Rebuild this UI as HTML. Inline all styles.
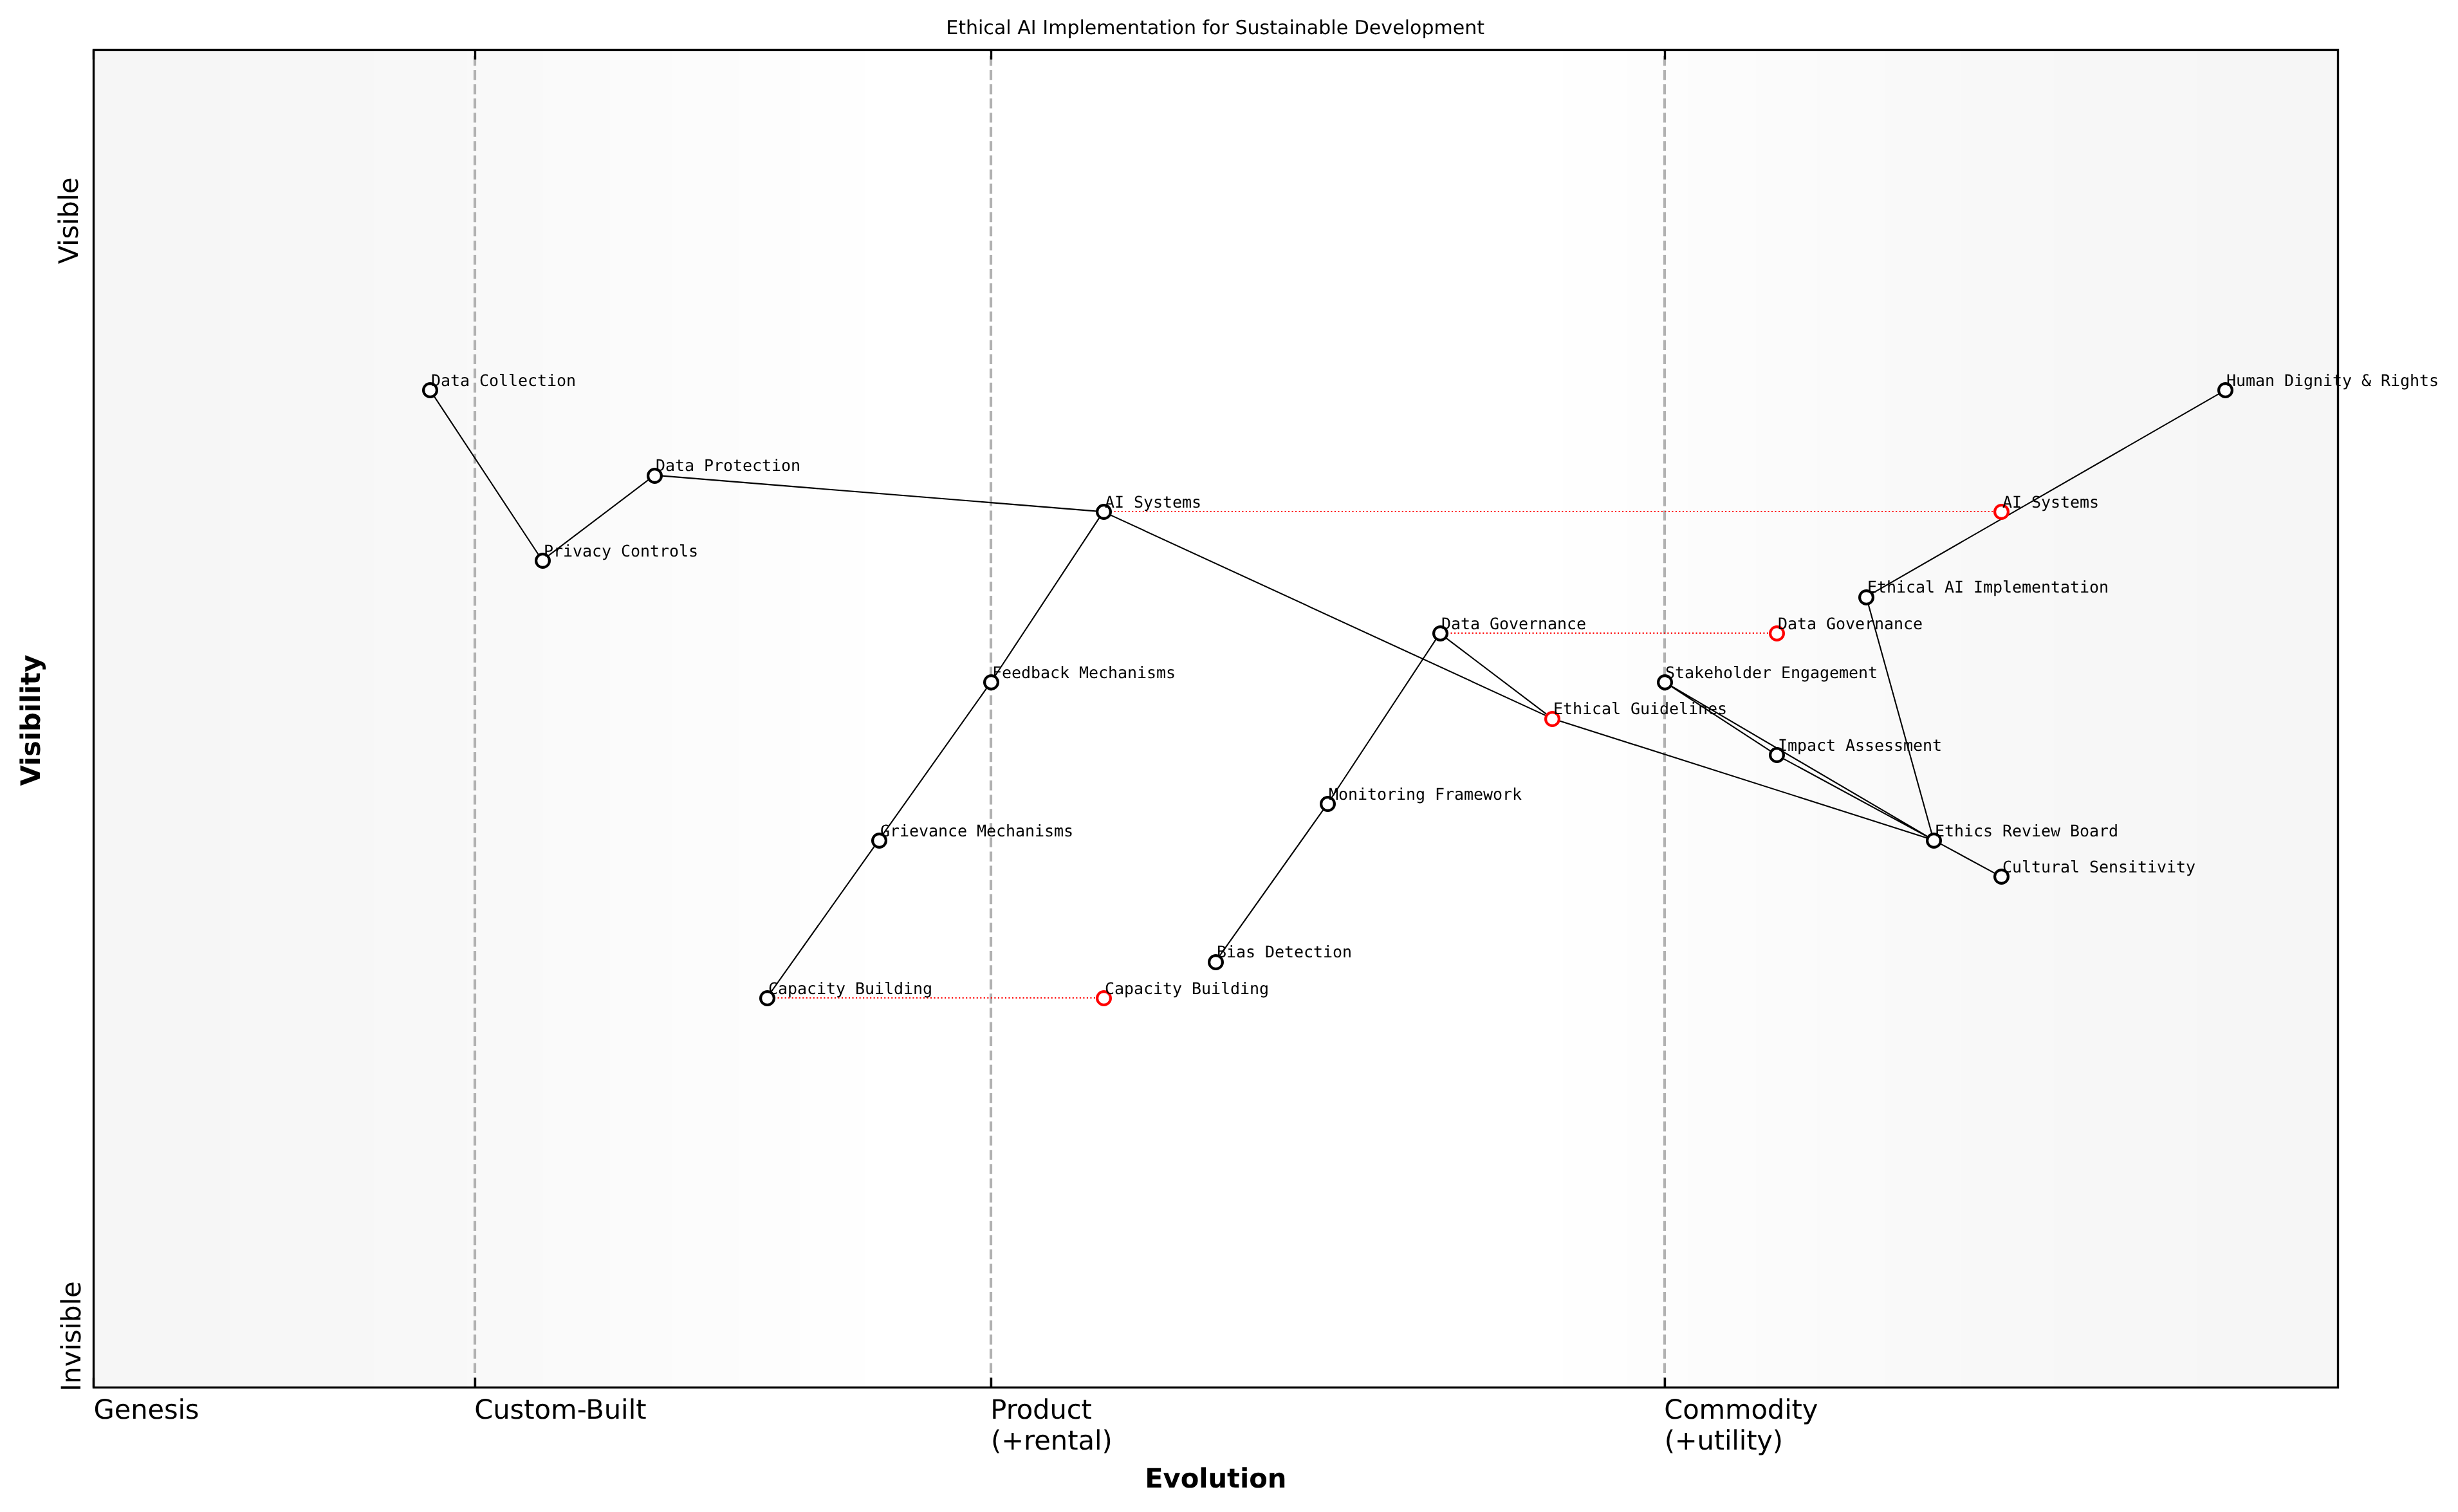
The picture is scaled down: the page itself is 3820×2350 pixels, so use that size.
<!DOCTYPE html>
<html lang="en">
<head>
<meta charset="utf-8">
<title>Ethical AI Implementation for Sustainable Development</title>
<style>
html,body{margin:0;padding:0;background:#ffffff;}
body{width:3820px;height:2350px;}
svg{display:block;will-change:transform;}
text{fill:#000000;text-rendering:geometricPrecision;font-kerning:normal;white-space:pre;}
.s{font-family:"DejaVu Sans","Liberation Sans",sans-serif;}
.m{font-family:"DejaVu Sans Mono","Liberation Mono",monospace;font-size:25px;letter-spacing:-0.0513px;}
.t{font-size:41.667px;}
.b{font-weight:bold;}
.e{stroke:#000000;stroke-width:2.0833;fill:none;}
.d{stroke:#b1b1b1;stroke-width:4.1667;stroke-dasharray:15.4167 6.6667;fill:none;}
.r{stroke:#ff0000;stroke-width:2.0833;stroke-dasharray:2.0833 3.4375;fill:none;}
.k{stroke:#000000;stroke-width:3.3333;fill:none;}
.n{fill:#ffffff;stroke:#000000;stroke-width:4.1667;}
.nr{fill:#ffffff;stroke:#ff0000;stroke-width:4.1667;}
</style>
</head>
<body>
<svg width="3820" height="2350" viewBox="0 0 3820 2350">
<rect x="0" y="0" width="3820" height="2350" fill="#ffffff"/>
<g shape-rendering="crispEdges">
<rect x="145.5" y="77.5" width="212.5" height="2079" fill="#f6f6f6"/>
<rect x="358" y="77.5" width="223" height="2079" fill="#f7f7f7"/>
<rect x="581" y="77.5" width="145" height="2079" fill="#f8f8f8"/>
<rect x="726" y="77.5" width="118" height="2079" fill="#f9f9f9"/>
<rect x="844" y="77.5" width="104" height="2079" fill="#fafafa"/>
<rect x="948" y="77.5" width="96" height="2079" fill="#fbfbfb"/>
<rect x="1044" y="77.5" width="104" height="2079" fill="#fcfcfc"/>
<rect x="1148" y="77.5" width="96" height="2079" fill="#fdfdfd"/>
<rect x="1244" y="77.5" width="100" height="2079" fill="#fefefe"/>
<rect x="1344" y="77.5" width="1085" height="2079" fill="#ffffff"/>
<rect x="2429" y="77.5" width="100" height="2079" fill="#fefefe"/>
<rect x="2529" y="77.5" width="95" height="2079" fill="#fdfdfd"/>
<rect x="2624" y="77.5" width="105" height="2079" fill="#fcfcfc"/>
<rect x="2729" y="77.5" width="95" height="2079" fill="#fbfbfb"/>
<rect x="2824" y="77.5" width="105" height="2079" fill="#fafafa"/>
<rect x="2929" y="77.5" width="118" height="2079" fill="#f9f9f9"/>
<rect x="3047" y="77.5" width="145" height="2079" fill="#f8f8f8"/>
<rect x="3192" y="77.5" width="223" height="2079" fill="#f7f7f7"/>
<rect x="3415" y="77.5" width="218.5" height="2079" fill="#f6f6f6"/>
</g>
<path class="d" d="M738 2156V77.5"/>
<path class="d" d="M1540 2156V77.5"/>
<path class="d" d="M2587 2156V77.5"/>
<path class="k" d="M145.5 2156.5V2141.5M145.5 77.5V92.5"/>
<path class="k" d="M738.5 2156.5V2141.5M738.5 77.5V92.5"/>
<path class="k" d="M1540.5 2156.5V2141.5M1540.5 77.5V92.5"/>
<path class="k" d="M2587.5 2156.5V2141.5M2587.5 77.5V92.5"/>
<path class="e" d="M668.375 606.35L842.75 870.95M842.75 870.95L1017.125 738.65M1017.125 738.65L1714.625 795.35M1714.625 795.35L1540.25 1059.95M1540.25 1059.95L1365.875 1305.65M1365.875 1305.65L1191.5 1551.35M1714.625 795.35L2412.125 1116.65M2412.125 1116.65L3005 1305.65M2237.75 984.35L2412.125 1116.65M2237.75 984.35L2063.375 1248.95M2063.375 1248.95L1889 1494.65M3458.375 606.35L2900.375 927.65M2900.375 927.65L3005 1305.65M2586.5 1059.95L2760.875 1173.35M2586.5 1059.95L3005 1305.65M2760.875 1173.35L3005 1305.65M3005 1305.65L3109.625 1362.35"/>
<path class="r" d="M1715 795H3110"/>
<path class="r" d="M2238 984H2761"/>
<path class="r" d="M1192 1551H1715"/>
<circle class="n" cx="3458.5" cy="606.5" r="10.4167"/>
<circle class="n" cx="2900.5" cy="928.5" r="10.4167"/>
<circle class="n" cx="2587.5" cy="1060.5" r="10.4167"/>
<circle class="n" cx="2761.5" cy="1173.5" r="10.4167"/>
<circle class="n" cx="3005.5" cy="1306.5" r="10.4167"/>
<circle class="n" cx="3110.5" cy="1362.5" r="10.4167"/>
<circle class="n" cx="2238.5" cy="984.5" r="10.4167"/>
<circle class="n" cx="2063.5" cy="1249.5" r="10.4167"/>
<circle class="n" cx="1889.5" cy="1495.5" r="10.4167"/>
<circle class="n" cx="1715.5" cy="795.5" r="10.4167"/>
<circle class="n" cx="1540.5" cy="1060.5" r="10.4167"/>
<circle class="n" cx="1366.5" cy="1306.5" r="10.4167"/>
<circle class="n" cx="1192.5" cy="1551.5" r="10.4167"/>
<circle class="n" cx="1017.5" cy="739.5" r="10.4167"/>
<circle class="n" cx="843.5" cy="871.5" r="10.4167"/>
<circle class="n" cx="668.5" cy="606.5" r="10.4167"/>
<circle class="nr" cx="3110.5" cy="795.5" r="10.4167"/>
<circle class="nr" cx="2761.5" cy="984.5" r="10.4167"/>
<circle class="nr" cx="1715.5" cy="1551.5" r="10.4167"/>
<circle class="nr" cx="2412.5" cy="1117.5" r="10.4167"/>
<rect class="k" x="145.5" y="77.5" width="3488" height="2079" stroke-linejoin="miter"/>
<text class="s t" textLength="164.045" lengthAdjust="spacing" x="145.513" y="2205">Genesis</text>
<text class="s t" textLength="267.387" lengthAdjust="spacing" x="737.158" y="2205">Custom-Built</text>
<text class="s t" textLength="157.513" lengthAdjust="spacing" x="1539.352" y="2205">Product</text>
<text class="s t" textLength="188.664" lengthAdjust="spacing" x="1540.068" y="2253">(+rental)</text>
<text class="s t" textLength="239.176" lengthAdjust="spacing" x="2586.293" y="2204.625">Commodity</text>
<text class="s t" textLength="184.354" lengthAdjust="spacing" x="2586.739" y="2253.125">(+utility)</text>
<text class="s t b" textLength="220.223" lengthAdjust="spacing" x="1779.191" y="2312">Evolution</text>
<text class="s t" textLength="171.484" lengthAdjust="spacing" transform="translate(125 2162.819) rotate(-90)">Invisible</text>
<text class="s t" textLength="134.825" lengthAdjust="spacing" transform="translate(121 410.307) rotate(-90)">Visible</text>
<text class="s t b" textLength="203.863" lengthAdjust="spacing" transform="translate(62 1221.571) rotate(-90)">Visibility</text>
<text class="m" x="3460" y="600">Human Dignity &amp; Rights</text>
<text class="m" x="2902" y="921">Ethical AI Implementation</text>
<text class="m" x="2588" y="1054">Stakeholder Engagement</text>
<text class="m" x="2763" y="1167">Impact Assessment</text>
<text class="m" x="3007" y="1300">Ethics Review Board</text>
<text class="m" x="3112" y="1356">Cultural Sensitivity</text>
<text class="m" x="2240" y="978">Data Governance</text>
<text class="m" x="2065" y="1243">Monitoring Framework</text>
<text class="m" x="1891" y="1488">Bias Detection</text>
<text class="m" x="1717" y="789">AI Systems</text>
<text class="m" x="1542" y="1054">Feedback Mechanisms</text>
<text class="m" x="1368" y="1300">Grievance Mechanisms</text>
<text class="m" x="1194" y="1545">Capacity Building</text>
<text class="m" x="1019" y="732">Data Protection</text>
<text class="m" x="845" y="865">Privacy Controls</text>
<text class="m" x="670" y="600">Data Collection</text>
<text class="m" x="3112" y="789">AI Systems</text>
<text class="m" x="2763" y="978">Data Governance</text>
<text class="m" x="1717" y="1545">Capacity Building</text>
<text class="m" x="2414" y="1110">Ethical Guidelines</text>
<text class="s" font-size="30px" textLength="836.893" lengthAdjust="spacing" x="1470.152" y="53">Ethical AI Implementation for Sustainable Development</text>
</svg>
</body>
</html>
